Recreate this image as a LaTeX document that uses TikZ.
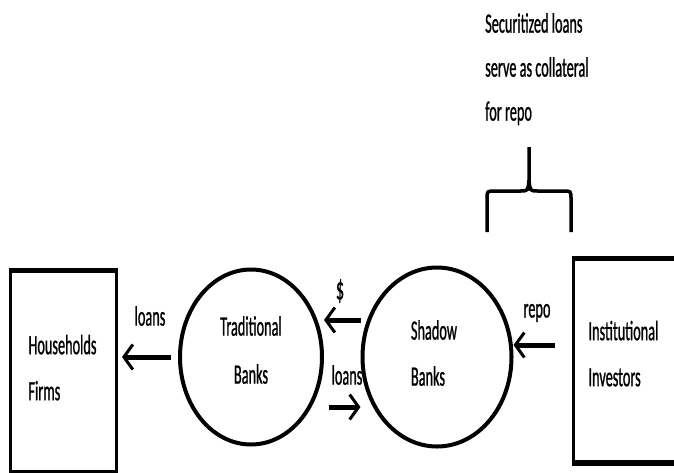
\documentclass[tikz,border=0pt]{standalone}
\usepackage{fontspec}
\setmainfont[FakeStretch=0.51, FakeBold=0.8]{Carlito}
\usetikzlibrary{arrows.meta,shapes.geometric,positioning}
\begin{document}
\begin{tikzpicture}[x=1pt, y=-1pt, font=\fontsize{28}{46}\selectfont,
        bank/.style = {ellipse, draw, line width=4pt, minimum width=142pt, minimum height=175pt, inner sep=0pt},
        party/.style = {rectangle, draw, line width=3pt, anchor=north west, align=left, minimum height=200pt},
        flow/.style = {line width=5pt, -{Straight Barb[length=9pt, width=25pt, line width=3pt]}},
        lbl/.style = {inner sep=0pt}]
    \useasboundingbox (0,0) rectangle (674,472);
    \node[party, text width=70pt, inner xsep=18pt, text depth=54pt] (hf) at (9,270) {Households\\Firms};
    \node[party, text width=105pt, inner xsep=15pt, minimum height=202pt, text depth=60pt] (ii) at (572,258) {Institutional\\Investors};
    \draw[line width=5pt] (hf.north west) -- (hf.north east) (hf.south west) -- (hf.south east);
    \draw[line width=5pt] (ii.north west) -- (ii.north east) (ii.south west) -- (ii.south east);
    \node[bank, label={[align=center, yshift=7pt, font=\fontsize{28}{48}\selectfont]center:Traditional\\Banks}] (tb) at (251,357) {};
    \node[bank, minimum width=149pt, minimum height=179pt,
          label={[align=left, yshift=4pt, xshift=-3pt]center:Shadow\\Banks}] (sb) at (437,357) {};
    \draw[flow, shorten <=7pt, shorten >=4pt] (tb.west) -- (hf.east |- tb.west);
    \draw[flow] (sb.west |- 0,320) -- (tb.east |- 0,320);
    \draw[flow, shorten <=5pt] (tb.east |- 0,407) -- (sb.west |- 0,407);
    \draw[flow, shorten <=17pt] (ii.west |- 0,345) -- (sb.east |- 0,345);
    \node[lbl] (l1) at (150,316) {loans};
    \node[lbl, font=\fontsize{32}{46}\selectfont] (l2) at (340,291) {\$};
    \node[lbl] (l3) at (347,375) {loans};
    \node[lbl] (l4) at (537,313) {repo};
    % bracket over the repo link
    \draw[line width=3.5pt] (487,232) -- (487,199) .. controls (487,191) .. (495,191) -- (520,191)
        .. controls (528,191) .. (529,180) -- (529,147) -- (529,180) .. controls (530,191) .. (538,191)
        -- (563,191) .. controls (571,191) .. (571,199) -- (571,232);
    \node[lbl, anchor=north west, align=left, font=\fontsize{28}{44}\selectfont] (note) at (485,13) {Securitized loans\\serve as collateral\\for repo};
\end{tikzpicture}
\end{document}
